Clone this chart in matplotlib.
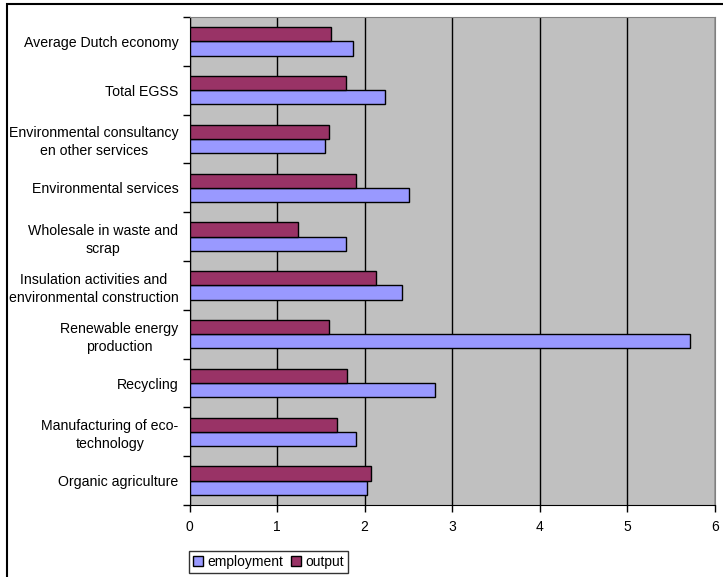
import numpy as np
import matplotlib.pyplot as plt
from matplotlib.patches import Rectangle

plt.rcParams['font.family'] = ['Liberation Sans', 'DejaVu Sans']

# sectors from bottom to top
sectors = [
    "Organic agriculture",
    "Manufacturing of eco-\ntechnology",
    "Recycling",
    "Renewable energy\nproduction",
    "Insulation activities and\nenvironmental construction",
    "Wholesale in waste and\nscrap",
    "Environmental services",
    "Environmental consultancy\nen other services",
    "Total EGSS",
    "Average Dutch economy",
]
employment = [2.03, 1.90, 2.80, 5.72, 2.43, 1.79, 2.51, 1.55, 2.23, 1.87]
output = [2.07, 1.68, 1.80, 1.59, 2.13, 1.24, 1.90, 1.59, 1.79, 1.62]
xticks = [0, 1, 2, 3, 4, 5, 6]

W, H = 723, 577
fig = plt.figure(figsize=(W / 100, H / 100), dpi=100)
ax = fig.add_axes([189.5 / W, 1 - 505 / H, (715 - 189.5) / W, (505 - 17) / H])

y = np.arange(len(sectors))
h = 0.29
ax.barh(y - h / 2, employment, height=h, color="#9999FF", edgecolor="black",
        linewidth=1, label="employment", zorder=3)
ax.barh(y + h / 2, output, height=h, color="#993366", edgecolor="black",
        linewidth=1, label="output", zorder=3)

ax.set_facecolor("#C0C0C0")
ax.set_xlim(0, 6)
ax.set_ylim(-0.5, len(sectors) - 0.5)
ax.set_xticks(xticks)
ax.set_xticklabels([str(v) for v in xticks], fontsize=10)
ax.xaxis.grid(True, color="black", linewidth=1, zorder=1)

ax.set_yticks(y)
ax.set_yticklabels(sectors, fontsize=10.2, multialignment="center",
                   linespacing=1.35)
ax.set_yticks(np.arange(-0.5, len(sectors)), minor=True)
ax.tick_params(axis="y", which="major", length=0, pad=8)
ax.tick_params(axis="y", which="minor", length=5, width=1, direction="out")
ax.tick_params(axis="x", length=5, width=1, direction="out", pad=6)

for side in ("top", "right"):
    ax.spines[side].set_color("#808080")
for side in ("left", "bottom"):
    ax.spines[side].set_color("black")

leg = fig.legend(loc="lower left", bbox_to_anchor=(189 / W, 4 / H),
                 ncol=2, fontsize=10, frameon=True, fancybox=False,
                 handlelength=0.7, handleheight=0.7, handletextpad=0.3,
                 columnspacing=0.6, borderpad=0.3, borderaxespad=0)
leg.get_frame().set_edgecolor("black")
leg.get_frame().set_linewidth(1)

# chart area border
fig.patches.append(Rectangle((7 / W, -0.1), 2, 1 - 4 / H + 0.1,
                             transform=fig.transFigure, fill=False,
                             edgecolor="black", linewidth=1.5))

fig.savefig("out.png", dpi=100)
